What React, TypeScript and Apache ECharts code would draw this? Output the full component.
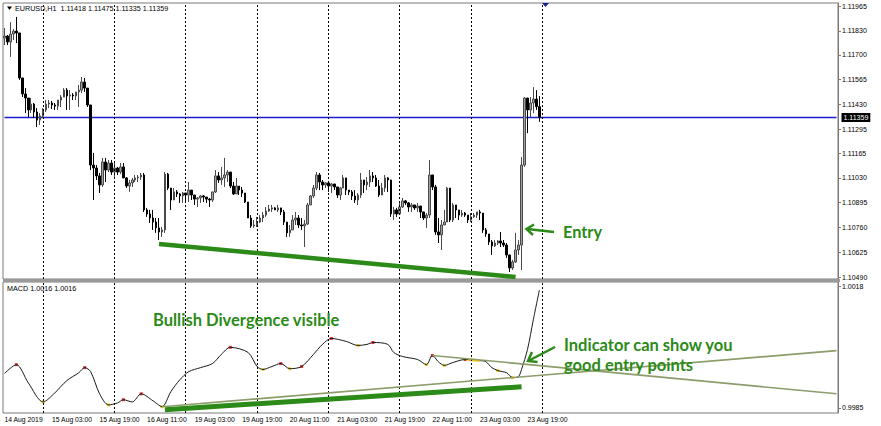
import React, { useEffect, useRef } from 'react';
import * as echarts from 'echarts';

// ---- price data (EURUSD H1), open of each bar = previous close ----
const firstOpen = 1.11791;
const closes = [
  1.11802, 1.1177, 1.11813, 1.11829, 1.11819, 1.11574, 1.11487, 1.11465, 1.114, 1.11432,
  1.11389, 1.11345, 1.11367, 1.114, 1.11432, 1.11438, 1.11427, 1.11421, 1.11454, 1.1147,
  1.11508, 1.11476, 1.11481, 1.11476, 1.11498, 1.11508, 1.11552, 1.11519, 1.11427, 1.111,
  1.11084, 1.11041, 1.10992, 1.11117, 1.11073, 1.11111, 1.11062, 1.11084, 1.11062, 1.1109,
  1.1103, 1.10986, 1.11003, 1.11019, 1.1103, 1.11035, 1.11046, 1.10856, 1.10834, 1.10812,
  1.1079, 1.10758, 1.10736, 1.10747, 1.11051, 1.10975, 1.1091, 1.10954, 1.10943, 1.10932,
  1.10948, 1.10937, 1.10964, 1.10937, 1.10915, 1.10921, 1.10932, 1.10926, 1.10915, 1.1091,
  1.10954, 1.11041, 1.11019, 1.1103, 1.11046, 1.11062, 1.10986, 1.10943, 1.10986, 1.10964,
  1.10948, 1.10899, 1.10812, 1.10769, 1.10774, 1.1079, 1.10812, 1.10828, 1.1085, 1.10861,
  1.10867, 1.10856, 1.10867, 1.10845, 1.1079, 1.10731, 1.10747, 1.10801, 1.10812, 1.10774,
  1.10769, 1.10779, 1.10883, 1.10932, 1.10975, 1.11046, 1.11008, 1.10992, 1.11003, 1.10986,
  1.10997, 1.10981, 1.10937, 1.10975, 1.1103, 1.10964, 1.10954, 1.10932, 1.1091, 1.10937,
  1.11019, 1.10992, 1.11008, 1.11041, 1.1103, 1.10986, 1.10937, 1.10975, 1.1103, 1.11019,
  1.10834, 1.10856, 1.10834, 1.10872, 1.10905, 1.10894, 1.10872, 1.10883, 1.10867, 1.10877,
  1.10845, 1.10812, 1.10828, 1.11046, 1.10981, 1.10736, 1.1072, 1.10774, 1.1079, 1.10975,
  1.10801, 1.10883, 1.10856, 1.10828, 1.10839, 1.10828, 1.10801, 1.10818, 1.10828, 1.10845,
  1.10839, 1.10747, 1.10725, 1.10682, 1.1066, 1.10676, 1.10687, 1.10676, 1.10665, 1.10611,
  1.1054, 1.10573, 1.10638, 1.10665, 1.111, 1.11465, 1.114, 1.11438, 1.11459, 1.11418,
  1.11359,
];
const highs = [
  1.11846, 1.11808, 1.11878, 1.1184, 1.11906, 1.11819, 1.11574, 1.11519, 1.11465, 1.11465,
  1.11438, 1.1141, 1.11383, 1.1141, 1.11454, 1.11454, 1.11449, 1.11438, 1.11454, 1.11481,
  1.11519, 1.11519, 1.11508, 1.11492, 1.11498, 1.11536, 1.11579, 1.11574, 1.11519, 1.11427,
  1.11166, 1.111, 1.11057, 1.11139, 1.11139, 1.11128, 1.11128, 1.11111, 1.1109, 1.11111,
  1.11111, 1.11035, 1.11019, 1.1103, 1.11046, 1.11046, 1.11057, 1.11057, 1.10867, 1.10856,
  1.10856, 1.10812, 1.10812, 1.10763, 1.11062, 1.11057, 1.10975, 1.10975, 1.10964, 1.10948,
  1.10954, 1.10948, 1.11008, 1.10964, 1.10937, 1.10926, 1.10937, 1.10937, 1.10926, 1.10921,
  1.10954, 1.11073, 1.11062, 1.1109, 1.11139, 1.11073, 1.11062, 1.11008, 1.1103, 1.10986,
  1.10981, 1.10948, 1.10899, 1.10828, 1.10801, 1.10818, 1.10828, 1.10845, 1.10872, 1.10883,
  1.10883, 1.10872, 1.10883, 1.10867, 1.10856, 1.1079, 1.10774, 1.10828, 1.10845, 1.10828,
  1.10812, 1.10801, 1.10894, 1.10937, 1.10992, 1.11062, 1.11057, 1.11019, 1.11008, 1.11003,
  1.11003, 1.10997, 1.10981, 1.10981, 1.11046, 1.1103, 1.10964, 1.10964, 1.10964, 1.10948,
  1.11057, 1.11019, 1.11035, 1.11073, 1.11062, 1.11046, 1.11019, 1.11003, 1.11046, 1.11035,
  1.11019, 1.10872, 1.10867, 1.10894, 1.10921, 1.1091, 1.10899, 1.10894, 1.10883, 1.10894,
  1.10877, 1.10845, 1.10839, 1.11128, 1.11046, 1.10992, 1.10812, 1.10801, 1.10856, 1.10981,
  1.10975, 1.10894, 1.10883, 1.10856, 1.10856, 1.10845, 1.10828, 1.10839, 1.10839, 1.10845,
  1.10856, 1.10839, 1.10758, 1.10725, 1.10692, 1.10692, 1.10692, 1.10736, 1.10692, 1.10676,
  1.10611, 1.10584, 1.10731, 1.10692, 1.11144, 1.1147, 1.11465, 1.1147, 1.11525, 1.11508,
  1.11475,
];
const lows = [
  1.11753, 1.11753, 1.11688, 1.1178, 1.11764, 1.11563, 1.1147, 1.11383, 1.11362, 1.11383,
  1.11356, 1.11307, 1.11318, 1.11356, 1.11389, 1.1141, 1.11405, 1.114, 1.114, 1.11416,
  1.1147, 1.114, 1.114, 1.11454, 1.11454, 1.11416, 1.11492, 1.11498, 1.11416, 1.11073,
  1.1091, 1.11019, 1.10948, 1.10981, 1.11008, 1.11062, 1.11046, 1.11035, 1.11046, 1.11051,
  1.1103, 1.10975, 1.10954, 1.10981, 1.11008, 1.11008, 1.11019, 1.10845, 1.10818, 1.10785,
  1.10747, 1.10731, 1.10692, 1.10709, 1.10731, 1.10964, 1.10856, 1.1091, 1.10926, 1.10894,
  1.10894, 1.10899, 1.10899, 1.1091, 1.10883, 1.10872, 1.10894, 1.10899, 1.10894, 1.10872,
  1.10899, 1.10948, 1.11003, 1.10992, 1.10981, 1.11008, 1.10975, 1.10937, 1.10948, 1.10937,
  1.10926, 1.10894, 1.10812, 1.10758, 1.10758, 1.10763, 1.10785, 1.1079, 1.10818, 1.10845,
  1.10845, 1.10856, 1.10845, 1.10828, 1.10774, 1.10709, 1.10709, 1.10763, 1.10774, 1.10758,
  1.10747, 1.10654, 1.10774, 1.10883, 1.10921, 1.10964, 1.10964, 1.10964, 1.10975, 1.10954,
  1.10948, 1.10964, 1.10921, 1.1091, 1.10975, 1.10937, 1.10937, 1.1091, 1.10894, 1.10883,
  1.10921, 1.10948, 1.10964, 1.10981, 1.11008, 1.10981, 1.10926, 1.10937, 1.10954, 1.10954,
  1.10818, 1.10801, 1.10818, 1.10834, 1.10867, 1.10883, 1.10845, 1.10845, 1.10856, 1.10845,
  1.10812, 1.10801, 1.10758, 1.10812, 1.10964, 1.1072, 1.10676, 1.10638, 1.10774, 1.1079,
  1.1079, 1.1079, 1.10812, 1.10801, 1.10818, 1.10818, 1.10785, 1.1079, 1.10812, 1.10812,
  1.10801, 1.10731, 1.10709, 1.10665, 1.10611, 1.10654, 1.10665, 1.10654, 1.10654, 1.10595,
  1.10518, 1.10529, 1.10567, 1.10611, 1.10529, 1.1109, 1.11274, 1.11362, 1.11383, 1.114,
  1.11335,
];
const currentPrice = 1.11359;

// ---- price axis tick labels ----
const priceTicks = [1.1049, 1.10625, 1.1076, 1.10895, 1.1103, 1.11165, 1.11295, 1.1143, 1.11565, 1.117, 1.1183, 1.11965];

// ---- time axis ----
const TOTAL_SLOTS = 281; // bars + chart shift space
const timeTickIdx = [0, 16, 32, 48, 64, 80, 96, 112, 128, 144, 160, 176];
const timeTickLabels = [
  '14 Aug 2019', '15 Aug 03:00', '15 Aug 19:00', '16 Aug 11:00', '19 Aug 03:00', '19 Aug 19:00',
  '20 Aug 11:00', '21 Aug 03:00', '21 Aug 19:00', '22 Aug 11:00', '23 Aug 03:00', '23 Aug 19:00',
];
const daySeparatorIdx = [13, 37, 61, 85, 109, 133, 157, 181];

// ---- MACD indicator line (sampled bar index -> value) ----
const macdIdx = [0, 4, 8, 13, 17, 21, 25, 27, 29, 32, 35, 38, 40, 43, 46, 50, 53, 56, 59, 62, 66, 70, 73, 76, 82, 85, 87, 90, 93, 96, 100, 104, 107, 110, 115, 119, 122, 124, 129, 131, 134, 139, 142, 144, 146, 148, 151, 155, 160, 162, 164, 166, 169, 171, 173, 174, 176, 178, 180];
const macdVals = [0.99943, 0.99967, 0.99918, 0.99866, 0.99891, 0.99924, 0.99945, 0.99959, 0.99948, 0.99888, 0.99858, 0.99863, 0.99872, 0.99866, 0.99888, 0.99869, 0.99853, 0.99894, 0.99926, 0.99948, 0.99959, 0.9997, 0.99995, 1.00014, 1.0, 0.99962, 0.99954, 0.99962, 0.9997, 0.99956, 0.99962, 0.99995, 1.00022, 1.00038, 1.0003, 1.00019, 1.00022, 1.00027, 1.00022, 1.0, 0.99989, 0.99981, 0.99967, 0.99992, 0.99975, 0.99965, 0.99973, 0.99981, 0.99978, 0.99975, 0.99959, 0.99951, 0.99945, 0.99932, 0.99935, 0.99954, 1.00008, 1.0009, 1.00169];
const macdTicks = [0.9985, 1.0018];
const redDotIdx = [4, 27, 40, 46, 76, 93, 100, 110, 124, 144, 155];
const yellowDotIdx = [13, 35, 53, 87, 96, 119, 142, 148, 166, 171];
const yellowRun = [[156, 0.9998], [160, 0.99978]];

// ---- drawn trend lines ([index, value] pairs) ----
const priceDivergenceLine = [[52, 1.10671], [172, 1.10491]];
const macdDivergenceLine = [[54, 0.99845], [174, 0.99907]];
const macdLowerTrend = [[53, 0.99853], [280, 1.00005]];
const macdUpperTrend = [[144, 0.99992], [280, 0.99888]];

const GREEN = '#2b8a18';
const OLIVE = '#8c9c6a';
const AXIS_GRAY = '#7a7a7a';
const PRICE_BLUE = '#1c1cd0';

function buildCategories(): string[] {
  const out: string[] = [];
  let t = Date.UTC(2019, 7, 14, 11);
  while (out.length < TOTAL_SLOTS) {
    const d = new Date(t);
    const wd = d.getUTCDay();
    if (wd !== 0 && wd !== 6) out.push(d.toISOString().slice(0, 16).replace('T', ' '));
    t += 3600000;
  }
  return out;
}

function buildOption(): any {
  const categories = buildCategories();
  const candles = closes.map((c, i) => {
    const o = i === 0 ? firstOpen : closes[i - 1];
    return [o, c, Math.min(lows[i], o, c), Math.max(highs[i], o, c)];
  });
  const macdData = macdIdx.map((x, k) => [x, macdVals[k]]);
  const dot = (i: number) => [i, macdVals[macdIdx.indexOf(i)]];
  const sep = (i: number) => ({ xAxis: i, lineStyle: { color: '#000', type: [2, 2], width: 1 } });
  const seg = (pts: number[][], color: string, width: number) => [
    { coord: pts[0], lineStyle: { color, width, type: 'solid' } },
    { coord: pts[1] },
  ];
  const axisFont = { fontFamily: 'Liberation Sans', color: '#000' };

  return {
    animation: false,
    backgroundColor: '#ffffff',
    grid: [
      { left: 3, top: 3, width: 835, height: 276, show: true, borderColor: AXIS_GRAY, borderWidth: 1 },
      { left: 3, top: 282, width: 835, height: 131, show: true, borderColor: AXIS_GRAY, borderWidth: 1 },
    ],
    xAxis: [
      {
        type: 'category', gridIndex: 0, data: categories, boundaryGap: true,
        axisLine: { show: false }, axisTick: { show: false }, axisLabel: { show: false }, splitLine: { show: false },
      },
      {
        type: 'category', gridIndex: 1, data: categories, boundaryGap: true,
        axisLine: { show: false }, axisTick: { show: false }, splitLine: { show: false },
        axisLabel: {
          show: true,
          interval: (idx: number) => timeTickIdx.includes(idx),
          formatter: (_v: string, idx: number) => {
            const k = timeTickIdx.indexOf(idx);
            return k >= 0 ? timeTickLabels[k] : '';
          },
          align: 'left', fontSize: 6.8, margin: 3, ...axisFont,
        },
      },
    ],
    yAxis: [
      {
        type: 'value', gridIndex: 0, position: 'right', min: 1.1048, max: 1.11982,
        splitLine: { show: false },
        axisLine: { show: true, lineStyle: { color: AXIS_GRAY } },
        axisTick: { show: true, length: 3, customValues: priceTicks, lineStyle: { color: AXIS_GRAY } },
        axisLabel: { customValues: priceTicks, formatter: (v: number) => v.toFixed(5), fontSize: 7, margin: 4, ...axisFont },
      },
      {
        type: 'value', gridIndex: 1, position: 'right', min: 0.99836, max: 1.00191,
        splitLine: { show: false },
        axisLine: { show: true, lineStyle: { color: AXIS_GRAY } },
        axisTick: { show: true, length: 3, customValues: macdTicks, lineStyle: { color: AXIS_GRAY } },
        axisLabel: { customValues: macdTicks, formatter: (v: number) => v.toFixed(4), fontSize: 7, margin: 4, ...axisFont },
      },
    ],
    series: [
      {
        // current bid line across the whole price panel
        type: 'line', xAxisIndex: 0, yAxisIndex: 0, z: 1,
        data: [[0, currentPrice], [TOTAL_SLOTS - 1, currentPrice]],
        symbol: 'none', showSymbol: false, silent: true,
        lineStyle: { color: PRICE_BLUE, width: 1.3, type: 'solid' },
        endLabel: {
          show: true, formatter: () => currentPrice.toFixed(5), distance: 5,
          backgroundColor: '#000', color: '#fff', fontSize: 7, fontFamily: 'Liberation Sans', padding: [1, 2],
        },
      },
      {
        type: 'candlestick', xAxisIndex: 0, yAxisIndex: 0, data: candles, barWidth: 2, z: 3,
        itemStyle: { color: '#a0a0a0', color0: '#000000', borderColor: '#4a4a4a', borderColor0: '#000000', borderWidth: 1 },
        markLine: {
          silent: true, symbol: ['none', 'none'], label: { show: false }, animation: false, precision: 5,
          data: [
            ...daySeparatorIdx.map(sep),
            seg(priceDivergenceLine, GREEN, 4.5),
          ],
        },
      },
      {
        type: 'line', xAxisIndex: 1, yAxisIndex: 1, data: macdData, smooth: 0.3,
        symbol: 'none', showSymbol: false, lineStyle: { color: '#1a1a1a', width: 1 },
        markLine: {
          silent: true, symbol: ['none', 'none'], label: { show: false }, animation: false, precision: 5,
          data: [
            ...daySeparatorIdx.map(sep),
            seg(macdDivergenceLine, GREEN, 5),
            seg(macdLowerTrend, OLIVE, 1.6),
            seg(macdUpperTrend, OLIVE, 1.6),
          ],
        },
      },
      {
        type: 'line', xAxisIndex: 1, yAxisIndex: 1, data: yellowRun, symbol: 'none',
        lineStyle: { color: '#f5c400', width: 2.5 },
      },
      {
        type: 'scatter', xAxisIndex: 1, yAxisIndex: 1, data: redDotIdx.map(dot),
        symbol: 'rect', symbolSize: 3, itemStyle: { color: '#e00000' },
      },
      {
        type: 'scatter', xAxisIndex: 1, yAxisIndex: 1, data: yellowDotIdx.map(dot),
        symbol: 'rect', symbolSize: 3, itemStyle: { color: '#f2c200' },
      },
    ],
    graphic: [
      { type: 'rect', shape: { x: 3, y: 279, width: 837, height: 3 }, style: { fill: '#9a9a9a' }, z: 50 },
      { type: 'polygon', shape: { points: [[7, 6.5], [12, 6.5], [9.5, 10]] }, style: { fill: '#000' }, z: 50 },
      {
        type: 'text', x: 15, y: 8.5, z: 50,
        style: { text: 'EURUSD,H1  1.11418 1.11475 1.11335 1.11359', fontSize: 7.2, fontFamily: 'Liberation Sans', fill: '#000', verticalAlign: 'middle' },
      },
      {
        type: 'text', x: 7, y: 288.5, z: 50,
        style: { text: 'MACD 1.0016 1.0016', fontSize: 7.2, fontFamily: 'Liberation Sans', fill: '#000', verticalAlign: 'middle' },
      },
      { type: 'polygon', shape: { points: [[542, 3], [549, 3], [545.5, 7]] }, style: { fill: '#1c1c8c' }, z: 50 },
      {
        type: 'text', x: 563, y: 231, z: 60,
        style: { text: 'Entry', fontSize: 16.3, fontWeight: 'bold', fontFamily: 'Lato', fill: GREEN, verticalAlign: 'middle' },
      },
      {
        type: 'text', x: 153, y: 319.5, z: 60,
        style: { text: 'Bullish Divergence visible', fontSize: 16.5, fontWeight: 'bold', fontFamily: 'Lato', fill: GREEN, verticalAlign: 'middle' },
      },
      {
        type: 'text', x: 564, y: 345, z: 60,
        style: { text: 'Indicator can show you', fontSize: 16.5, fontWeight: 'bold', fontFamily: 'Lato', fill: GREEN, verticalAlign: 'middle' },
      },
      {
        type: 'text', x: 564, y: 364.5, z: 60,
        style: { text: 'good entry points', fontSize: 16.5, fontWeight: 'bold', fontFamily: 'Lato', fill: GREEN, verticalAlign: 'middle' },
      },
      { type: 'line', shape: { x1: 554, y1: 232, x2: 527, y2: 229 }, style: { stroke: GREEN, lineWidth: 2.5 }, z: 60 },
      { type: 'polyline', shape: { points: [[534, 224.5], [526.5, 229], [533, 235]] }, style: { stroke: GREEN, lineWidth: 2.5, fill: 'none' }, z: 60 },
      { type: 'line', shape: { x1: 555, y1: 347, x2: 529, y2: 360.5 }, style: { stroke: GREEN, lineWidth: 2.5 }, z: 60 },
      { type: 'polyline', shape: { points: [[532, 352], [528, 361], [537.5, 362]] }, style: { stroke: GREEN, lineWidth: 2.5, fill: 'none' }, z: 60 },
    ],
  };
}

export default function App() {
  const ref = useRef<HTMLDivElement>(null);
  useEffect(() => {
    if (!ref.current) return;
    const chart = echarts.init(ref.current, undefined, { renderer: 'svg' });
    chart.setOption(buildOption());
    return () => chart.dispose();
  }, []);
  return (
    <div
      ref={ref}
      style={{ position: 'fixed', left: 0, top: 0, width: 881, height: 426, background: '#fff' }}
    />
  );
}
